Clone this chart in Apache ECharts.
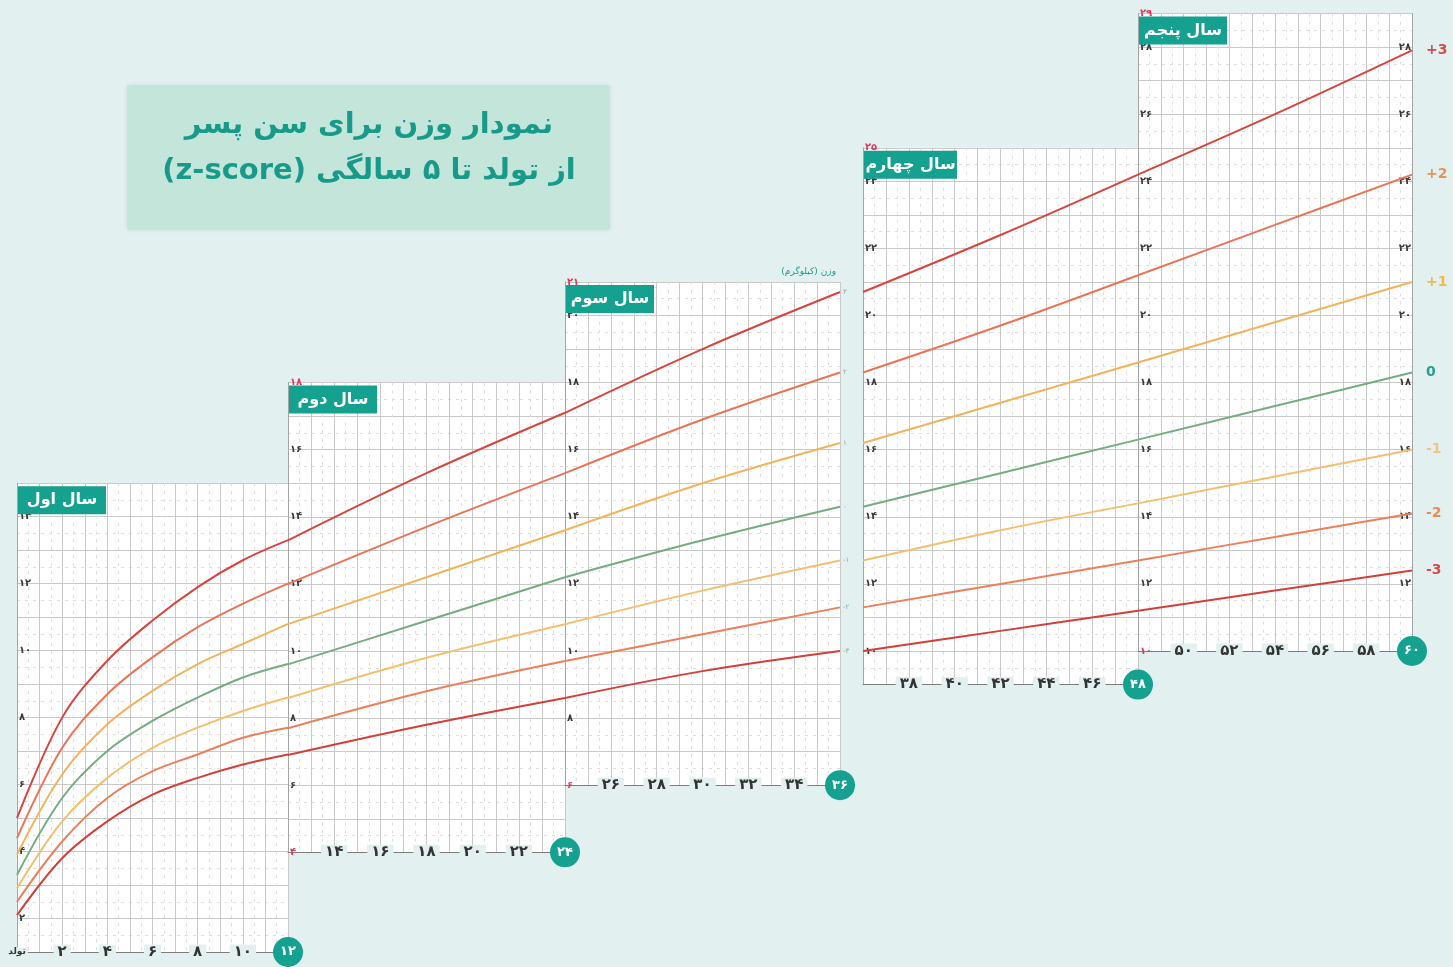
<!DOCTYPE html>
<html><head><meta charset="utf-8">
<script src="https://cdn.jsdelivr.net/npm/echarts@6/dist/echarts.min.js"></script>
<style>html,body{margin:0;padding:0;background:#e2f1ef;}#c{width:1453px;height:967px;}</style>
</head><body><div id="c"></div>
<script>
// ---------- DATA ----------
const months = Array.from({length: 61}, (_, i) => i); // 0..60 months
const zNames = ['+3', '+2', '+1', '0', '-1', '-2', '-3'];
const sdPlus3 = [5.0,6.6,8.0,9.0,9.7,10.4,10.9,11.4,11.9,12.3,12.7,13.0,13.3,
  13.7,14.0,14.3,14.6,14.9,15.3,15.6,15.9,16.2,16.5,16.8,17.1,
  17.5,17.8,18.1,18.4,18.7,19.0,19.3,19.6,19.9,20.2,20.4,20.7,
  21.0,21.3,21.6,21.9,22.1,22.4,22.7,23.0,23.3,23.6,23.9,24.2,
  24.5,24.8,25.1,25.4,25.7,26.0,26.3,26.6,26.9,27.2,27.6,27.9];
const sdPlus2 = [4.4,5.8,7.1,8.0,8.7,9.3,9.8,10.3,10.7,11.0,11.4,11.7,12.0,
  12.3,12.6,12.8,13.1,13.4,13.7,13.9,14.2,14.5,14.7,15.0,15.3,
  15.5,15.8,16.1,16.3,16.6,16.9,17.1,17.4,17.6,17.8,18.1,18.3,
  18.6,18.8,19.0,19.3,19.5,19.7,20.0,20.2,20.5,20.7,20.9,21.2,
  21.4,21.7,21.9,22.2,22.4,22.7,22.9,23.2,23.4,23.7,23.9,24.2];
const sdPlus1 = [3.9,5.1,6.3,7.2,7.8,8.4,8.8,9.2,9.6,9.9,10.2,10.5,10.8,
  11.0,11.3,11.5,11.7,12.0,12.2,12.5,12.7,12.9,13.2,13.4,13.6,
  13.9,14.1,14.3,14.5,14.8,15.0,15.2,15.4,15.6,15.8,16.0,16.2,
  16.4,16.6,16.8,17.0,17.2,17.4,17.6,17.8,18.0,18.2,18.4,18.6,
  18.8,19.0,19.2,19.4,19.6,19.8,20.0,20.2,20.4,20.6,20.8,21.0];
const median = [3.3,4.5,5.6,6.4,7.0,7.5,7.9,8.3,8.6,8.9,9.2,9.4,9.6,
  9.9,10.1,10.3,10.5,10.7,10.9,11.1,11.3,11.5,11.8,12.0,12.2,
  12.4,12.5,12.7,12.9,13.1,13.3,13.5,13.7,13.8,14.0,14.2,14.3,
  14.5,14.7,14.8,15.0,15.2,15.3,15.5,15.7,15.8,16.0,16.2,16.3,
  16.5,16.7,16.8,17.0,17.2,17.3,17.5,17.7,17.8,18.0,18.2,18.3];
const sdMinus1 = [2.9,3.9,4.9,5.7,6.2,6.7,7.1,7.4,7.7,8.0,8.2,8.4,8.6,
  8.8,9.0,9.2,9.4,9.6,9.8,10.0,10.1,10.3,10.5,10.7,10.8,
  11.0,11.2,11.3,11.5,11.7,11.8,12.0,12.1,12.3,12.4,12.6,12.7,
  12.9,13.0,13.1,13.3,13.4,13.6,13.7,13.8,14.0,14.1,14.3,14.4,
  14.5,14.7,14.8,15.0,15.1,15.2,15.4,15.5,15.6,15.8,15.9,16.0];
const sdMinus2 = [2.5,3.4,4.3,5.0,5.6,6.0,6.4,6.7,6.9,7.1,7.4,7.6,7.7,
  7.9,8.1,8.3,8.4,8.6,8.8,8.9,9.1,9.2,9.4,9.5,9.7,
  9.8,10.0,10.1,10.2,10.4,10.5,10.7,10.8,10.9,11.0,11.2,11.3,
  11.4,11.5,11.6,11.8,11.9,12.0,12.1,12.2,12.4,12.5,12.6,12.7,
  12.8,12.9,13.1,13.2,13.3,13.4,13.5,13.6,13.7,13.8,14.0,14.1];
const sdMinus3 = [2.1,2.9,3.8,4.4,4.9,5.3,5.7,5.9,6.2,6.4,6.6,6.8,6.9,
  7.1,7.2,7.4,7.5,7.7,7.8,8.0,8.1,8.2,8.4,8.5,8.6,
  8.8,8.9,9.0,9.1,9.2,9.4,9.5,9.6,9.7,9.8,9.9,10.0,
  10.1,10.2,10.3,10.4,10.5,10.6,10.7,10.8,10.9,11.0,11.1,11.2,
  11.3,11.4,11.5,11.6,11.7,11.8,11.9,12.0,12.1,12.2,12.3,12.4];
const panelTitles = ['سال اول', 'سال دوم', 'سال سوم', 'سال چهارم', 'سال پنجم'];
const panelXMin = [0, 12, 24, 36, 48];
const panelXMax = [12, 24, 36, 48, 60];
const panelYMin = [1, 4, 6, 9, 10];
const panelYMax = [15, 18, 21, 25, 29];
// months drawn as curve nodes in each panel (subset of the readings above)
const panelNodes = [[0, 2, 4, 6, 8, 10, 12], [12, 18, 24], [24, 30, 36], [36, 42, 48], [48, 54, 60]];
const birthLabel = 'تولد';
const titleLine1 = 'نمودار وزن برای سن پسر';
const titleLine2 = 'از تولد تا ۵ سالگی (z-score)';
const unitLabel = 'وزن (کیلوگرم)';

// ---------- STYLE / LAYOUT ----------
const zData = [sdPlus3, sdPlus2, sdPlus1, median, sdMinus1, sdMinus2, sdMinus3];
const lineColors = ['#d8453d', '#ec7356', '#f3b35b', '#74ad80', '#f4c070', '#ee7f5c', '#d43f3a'];
const zLabelColors = ['#d94a47', '#e8905e', '#eeb94f', '#25a08c', '#efc47f', '#e88a52', '#d94a47'];
const FONT = 'DejaVu Sans';
const BG = '#e2f1ef';
const TEAL = '#14a190';
const RED = '#e2395d';
const panelLeft = [17, 288, 565, 863, 1138];
const panelRight = [288, 565, 840, 1138, 1412];
const y10 = 651, pxPerKg = 33.55;

function fa(n) { return String(n).replace(/\d/g, d => '۰۱۲۳۴۵۶۷۸۹'[d]); }
function rtl(s) { return '\u202B' + s + '\u202C'; }

const grids = [], xAxes = [], yAxes = [], series = [], graphics = [];
for (let p = 0; p < 5; p++) {
  const top = y10 - (panelYMax[p] - 10) * pxPerKg;
  const height = (panelYMax[p] - panelYMin[p]) * pxPerKg;
  grids.push({left: panelLeft[p], top: top, width: panelRight[p] - panelLeft[p], height: height,
    show: true, backgroundColor: '#ffffff', borderWidth: 0, containLabel: false});
  const xmin = panelXMin[p], xmax = panelXMax[p];
  xAxes.push({type: 'value', gridIndex: p, min: xmin, max: xmax, interval: 1,
    axisLine: {show: true, lineStyle: {color: '#7d7d7d', width: 1}},
    axisTick: {show: false},
    minorTick: {show: false, splitNumber: 2},
    splitLine: {show: true, lineStyle: {color: '#c9c9c9', width: 1}},
    minorSplitLine: {show: true, lineStyle: {color: '#dedede', width: 1, type: [3, 5]}},
    axisLabel: {show: true, showMinLabel: true, showMaxLabel: true, margin: 0, verticalAlign: 'middle',
      fontFamily: FONT, fontWeight: 'bold', fontSize: 15, color: '#333',
      formatter: (v) => {
        if (v === xmax) return '{c|' + fa(v) + '}';
        if (v === xmin) return p === 0 ? '{b|' + birthLabel + '}' : '';
        if (v % 2 === 0) return '{n|' + fa(v) + '}';
        return '';
      },
      rich: {
        n: {backgroundColor: BG, padding: [0, 4], fontFamily: FONT, fontWeight: 'bold', fontSize: 15, color: '#333'},
        b: {backgroundColor: BG, padding: [0, 2], fontFamily: FONT, fontWeight: 'bold', fontSize: 9, color: '#333'},
        c: {backgroundColor: TEAL, color: '#fff', width: 30, height: 30, lineHeight: 30, borderRadius: 15,
          align: 'center', fontFamily: FONT, fontWeight: 'bold', fontSize: 13}
      }}
  });
  const ymin = panelYMin[p], ymax = panelYMax[p];
  yAxes.push({type: 'value', gridIndex: p, min: ymin, max: ymax, interval: 1,
    axisLine: {show: true, lineStyle: {color: '#a5a5a5', width: 1}},
    axisTick: {show: false},
    minorTick: {show: false, splitNumber: 2},
    splitLine: {show: true, lineStyle: {color: '#c9c9c9', width: 1}},
    minorSplitLine: {show: true, lineStyle: {color: '#dedede', width: 1, type: [3, 5]}},
    axisLabel: {show: true, inside: true, margin: 2, showMinLabel: true, showMaxLabel: true,
      fontFamily: FONT, fontWeight: 'bold', fontSize: 10, color: '#3a3a3a',
      formatter: (v) => {
        if (v === ymax) return p === 0 ? '' : '{r|' + fa(v) + '}';
        if (v === ymin) return (p === 1 || p === 2 || p === 4) ? '{r|' + fa(v) + '}' : '';
        if (v % 2 === 0) return fa(v);
        return '';
      },
      rich: {r: {color: RED, fontFamily: FONT, fontWeight: 'bold', fontSize: 10}}}
  });
  for (let j = 0; j < 7; j++) {
    const data = panelNodes[p].map(m => [months[m], zData[j][m]]);
    const s = {type: 'line', name: zNames[j], xAxisIndex: p, yAxisIndex: p, data: data,
      smooth: 0.35, showSymbol: false, silent: true, z: 3,
      lineStyle: {color: lineColors[j], width: 2}};
    if (p === 4) {
      s.endLabel = {show: true, formatter: zNames[j], distance: 14, color: zLabelColors[j],
        fontFamily: FONT, fontWeight: 'bold', fontSize: 14};
    } else if (p === 2) {
      s.endLabel = {show: true, formatter: fa(zNames[j].replace('+', '')), distance: 3, color: '#a0a0a0',
        fontFamily: FONT, fontSize: 7};
    }
    series.push(s);
  }
  // panel title box
  const bw = p === 3 ? 93 : 88;
  graphics.push({type: 'rect', left: panelLeft[p] + 1, top: top + 3, z: 100,
    shape: {width: bw, height: 28}, style: {fill: TEAL}});
  graphics.push({type: 'text', x: panelLeft[p] + 1 + bw / 2, y: top + 3 + 14, z: 101,
    style: {text: panelTitles[p], fill: '#fff', font: 'bold 16px "' + FONT + '"',
      textAlign: 'center', textVerticalAlign: 'middle'}});
}
// right axis of the fifth panel
yAxes.push({type: 'value', gridIndex: 4, position: 'right', min: panelYMin[4], max: panelYMax[4], interval: 1,
  axisLine: {show: true, lineStyle: {color: '#a5a5a5'}}, axisTick: {show: false}, splitLine: {show: false},
  axisLabel: {show: true, inside: true, margin: 1, showMinLabel: true, showMaxLabel: true,
    fontFamily: FONT, fontWeight: 'bold', fontSize: 10, color: '#3a3a3a',
    formatter: (v) => (v !== panelYMin[4] && v !== panelYMax[4] && v % 2 === 0) ? fa(v) : ''}});

// title box
graphics.push({type: 'rect', left: 127, top: 85, z: 100, shape: {width: 483, height: 145, r: 2},
  style: {fill: '#c3e5da', shadowBlur: 4, shadowColor: 'rgba(0,0,0,0.08)'}});
graphics.push({type: 'text', x: 369, y: 125, z: 101, style: {text: rtl(titleLine1), fill: '#189a8b',
  font: 'bold 29px "' + FONT + '"', textAlign: 'center', textVerticalAlign: 'middle'}});
graphics.push({type: 'text', x: 369, y: 171, z: 101, style: {text: rtl(titleLine2), fill: '#189a8b',
  font: 'bold 29px "' + FONT + '"', textAlign: 'center', textVerticalAlign: 'middle'}});
// unit label
graphics.push({type: 'text', x: 836, y: 272, z: 101,
  style: {text: rtl(unitLabel), fill: '#1a9a8c', font: '9px "' + FONT + '"', textAlign: 'right', textVerticalAlign: 'middle'}});

const chart = echarts.init(document.getElementById('c'), null, {renderer: 'canvas'});
chart.setOption({
  backgroundColor: BG,
  animation: false,
  grid: grids, xAxis: xAxes, yAxis: yAxes, series: series, graphic: graphics
});
</script></body></html>
